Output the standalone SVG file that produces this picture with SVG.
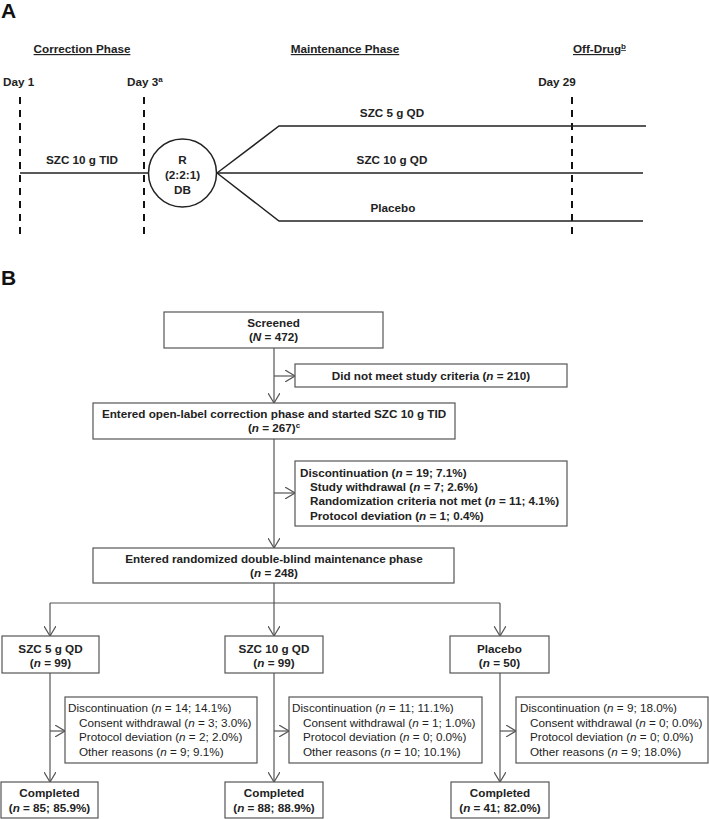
<svg xmlns="http://www.w3.org/2000/svg" width="709" height="819" viewBox="0 0 709 819">
<defs>
<style>
text{font-family:"Liberation Sans",Arial,sans-serif;font-size:11.7px;fill:#222}
.b{font-weight:bold}
.lab{font-weight:bold;font-size:21px;fill:#111}
.u{text-decoration:underline}
.c{text-anchor:middle}
.box{fill:#fff;stroke:#555;stroke-width:1.2}
.ln{fill:none;stroke:#555;stroke-width:1.2}
.al{fill:none;stroke:#222;stroke-width:1.5}
.dash{fill:none;stroke:#111;stroke-width:2;stroke-dasharray:7 6}
.sup{font-size:8px}
</style>
<marker id="ah" viewBox="0 0 10 12" refX="10" refY="6" markerWidth="10" markerHeight="12" markerUnits="userSpaceOnUse" orient="auto">
<path d="M0,0 L10,6 L0,12" fill="none" stroke="#555" stroke-width="1.2"/>
</marker>
</defs>

<!-- Panel A -->
<g id="panelA">
<text class="lab" x="1" y="18">A</text>
<text class="b u c" x="82" y="53">Correction Phase</text>
<text class="b u c" x="345" y="53">Maintenance Phase</text>
<text class="b u" x="573" y="53">Off-Drug<tspan class="sup" dy="-4">b</tspan></text>
<text class="b" x="3" y="86">Day 1</text>
<text class="b" x="127" y="86">Day 3<tspan class="sup" dy="-4">a</tspan></text>
<text class="b c" x="557" y="86">Day 29</text>
<line class="dash" x1="20" y1="97" x2="20" y2="238"/>
<line class="dash" x1="144" y1="97" x2="144" y2="238"/>
<line class="dash" x1="572" y1="97" x2="572" y2="238"/>
<g id="timeline">
<polyline class="al" points="20,173 148,173"/>
<polyline class="al" points="217,173 279,126 646,126"/>
<polyline class="al" points="217,173 643,173"/>
<polyline class="al" points="217,173 279,221 643,221"/>
</g>
<text class="b c" x="82" y="164">SZC 10 g TID</text>
<g id="rand">
<circle cx="182.5" cy="173" r="34" fill="#fff" stroke="#222" stroke-width="1.5"/>
<text class="b c" x="182.5" y="164">R</text>
<text class="b c" x="182.5" y="179">(2:2:1)</text>
<text class="b c" x="182.5" y="194">DB</text>
</g>
<text class="b c" x="392" y="117">SZC 5 g QD</text>
<text class="b c" x="392" y="164">SZC 10 g QD</text>
<text class="b c" x="393" y="212">Placebo</text>
</g>

<!-- Panel B -->
<text class="lab" x="1" y="285">B</text>

<g id="connectors">
<line class="ln" x1="274" y1="348" x2="274" y2="403" marker-end="url(#ah)"/>
<line class="ln" x1="274" y1="376" x2="295" y2="376" marker-end="url(#ah)"/>
<line class="ln" x1="274" y1="439" x2="274" y2="548" marker-end="url(#ah)"/>
<line class="ln" x1="274" y1="493" x2="295" y2="493" marker-end="url(#ah)"/>
<line class="ln" x1="274" y1="583" x2="274" y2="636" marker-end="url(#ah)"/>
<polyline class="ln" points="50,603 500,603"/>
<line class="ln" x1="50" y1="603" x2="50" y2="636" marker-end="url(#ah)"/>
<line class="ln" x1="500" y1="603" x2="500" y2="636" marker-end="url(#ah)"/>
<line class="ln" x1="50" y1="673" x2="50" y2="782" marker-end="url(#ah)"/>
<line class="ln" x1="50" y1="731" x2="65" y2="731" marker-end="url(#ah)"/>
<line class="ln" x1="274" y1="673" x2="274" y2="782" marker-end="url(#ah)"/>
<line class="ln" x1="274" y1="731" x2="289" y2="731" marker-end="url(#ah)"/>
<line class="ln" x1="500" y1="673" x2="500" y2="782" marker-end="url(#ah)"/>
<line class="ln" x1="500" y1="731" x2="516" y2="731" marker-end="url(#ah)"/>
</g>

<g id="screened">
<rect class="box" x="164" y="312" width="219" height="36"/>
<text class="b c" x="273.5" y="327">Screened</text>
<text class="b c" x="273.5" y="341">(<tspan font-style="italic">N</tspan> = 472)</text>
</g>
<g id="notmet">
<rect class="box" x="295" y="364" width="272" height="23"/>
<text class="b c" x="431" y="380">Did not meet study criteria (<tspan font-style="italic">n</tspan> = 210)</text>
</g>
<g id="openlabel">
<rect class="box" x="93" y="403" width="362" height="36"/>
<text class="b c" x="274" y="418">Entered open-label correction phase and started SZC 10 g TID</text>
<text class="b c" x="274" y="432">(<tspan font-style="italic">n</tspan> = 267)<tspan class="sup" dy="-4">c</tspan></text>
</g>
<g id="disc1">
<rect class="box" x="295" y="461" width="272" height="65"/>
<text class="b" x="300" y="477">Discontinuation (<tspan font-style="italic">n</tspan> = 19; 7.1%)</text>
<text class="b" x="310" y="491">Study withdrawal (<tspan font-style="italic">n</tspan> = 7; 2.6%)</text>
<text class="b" x="310" y="505">Randomization criteria not met (<tspan font-style="italic">n</tspan> = 11; 4.1%)</text>
<text class="b" x="310" y="520">Protocol deviation (<tspan font-style="italic">n</tspan> = 1; 0.4%)</text>
</g>
<g id="randomized">
<rect class="box" x="93" y="548" width="361" height="35"/>
<text class="b c" x="274" y="563">Entered randomized double-blind maintenance phase</text>
<text class="b c" x="274" y="577">(<tspan font-style="italic">n</tspan> = 248)</text>
</g>

<g id="arm5">
<rect class="box" x="2" y="636" width="97" height="37"/>
<text class="b c" x="50.5" y="653">SZC 5 g QD</text>
<text class="b c" x="50.5" y="667">(<tspan font-style="italic">n</tspan> = 99)</text>
</g>
<g id="arm10">
<rect class="box" x="225" y="636" width="98" height="37"/>
<text class="b c" x="274" y="653">SZC 10 g QD</text>
<text class="b c" x="274" y="667">(<tspan font-style="italic">n</tspan> = 99)</text>
</g>
<g id="armpbo">
<rect class="box" x="450" y="636" width="99" height="37"/>
<text class="b c" x="499.5" y="653">Placebo</text>
<text class="b c" x="499.5" y="667">(<tspan font-style="italic">n</tspan> = 50)</text>
</g>

<g id="disc5">
<rect class="box" x="65" y="697" width="192" height="66"/>
<text x="68" y="712">Discontinuation (<tspan font-style="italic">n</tspan> = 14; 14.1%)</text>
<text x="79" y="727">Consent withdrawal (<tspan font-style="italic">n</tspan> = 3; 3.0%)</text>
<text x="79" y="741">Protocol deviation (<tspan font-style="italic">n</tspan> = 2; 2.0%)</text>
<text x="79" y="756">Other reasons (<tspan font-style="italic">n</tspan> = 9; 9.1%)</text>
</g>
<g id="disc10">
<rect class="box" x="289" y="697" width="193" height="66"/>
<text x="292" y="712">Discontinuation (<tspan font-style="italic">n</tspan> = 11; 11.1%)</text>
<text x="303" y="727">Consent withdrawal (<tspan font-style="italic">n</tspan> = 1; 1.0%)</text>
<text x="303" y="741">Protocol deviation (<tspan font-style="italic">n</tspan> = 0; 0.0%)</text>
<text x="303" y="756">Other reasons (<tspan font-style="italic">n</tspan> = 10; 10.1%)</text>
</g>
<g id="discpbo">
<rect class="box" x="516" y="697" width="192" height="66"/>
<text x="520" y="712">Discontinuation (<tspan font-style="italic">n</tspan> = 9; 18.0%)</text>
<text x="530" y="727">Consent withdrawal (<tspan font-style="italic">n</tspan> = 0; 0.0%)</text>
<text x="530" y="741">Protocol deviation (<tspan font-style="italic">n</tspan> = 0; 0.0%)</text>
<text x="530" y="756">Other reasons (<tspan font-style="italic">n</tspan> = 9; 18.0%)</text>
</g>

<g id="comp5">
<rect class="box" x="1" y="782" width="97" height="36"/>
<text class="b c" x="49.5" y="797">Completed</text>
<text class="b c" x="49.5" y="812">(<tspan font-style="italic">n</tspan> = 85; 85.9%)</text>
</g>
<g id="comp10">
<rect class="box" x="225" y="782" width="98" height="36"/>
<text class="b c" x="274" y="797">Completed</text>
<text class="b c" x="274" y="812">(<tspan font-style="italic">n</tspan> = 88; 88.9%)</text>
</g>
<g id="comppbo">
<rect class="box" x="451" y="782" width="98" height="36"/>
<text class="b c" x="500" y="797">Completed</text>
<text class="b c" x="500" y="812">(<tspan font-style="italic">n</tspan> = 41; 82.0%)</text>
</g>
</svg>
